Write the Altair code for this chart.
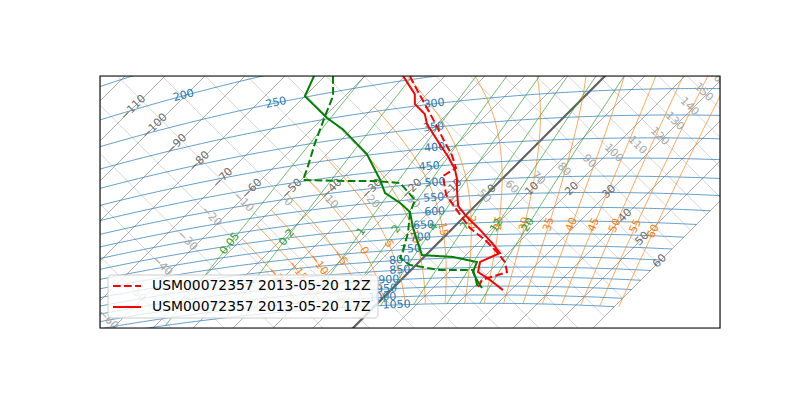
import numpy as np
import pandas as pd
import altair as alt

# ---------------- Sounding values (hPa, degC) ----------------
legend_labels = ["USM00072357 2013-05-20 12Z", "USM00072357 2013-05-20 17Z"]

p_t12 = [244, 280, 311, 345, 383, 423, 460, 481, 542, 605, 670, 722, 777, 825, 875, 916, 960]
t12 = [-48.75, -41.5, -35.75, -30, -24.25, -18.5, -14.25, -15.5, -10, -2.75, 4.25, 11, 17, 21.5, 24.5, 20.25, 21.25]
p_td12 = [223, 257, 293, 350, 415, 446, 464, 477, 491, 552, 598, 677, 751, 788, 826, 858, 862, 899, 960]
td12 = [-68, -63, -60, -55.75, -51.25, -49.5, -40, -31.25, -24.5, -16.5, -14.5, -10, -7, -5.75, -1.5, 7.25, 15.5, 17.75, 21.25]

p_t17 = [242, 277, 296, 319, 341, 365, 392, 425, 463, 493, 525, 583, 626, 679, 736, 782, 823, 873, 916, 972]
t17 = [-50.5, -43, -40.5, -35.5, -32.5, -28.5, -24.25, -19.25, -14.25, -11.25, -8.75, -4.25, 0.75, 7.25, 13.5, 18, 15.25, 17.25, 22.25, 28]
p_td17 = [217, 248, 298, 328, 397, 473, 519, 558, 594, 654, 780, 795, 823, 873, 916, 960]
td17 = [-72.75, -70, -59, -52.25, -40, -30.5, -25.75, -19.5, -14.75, -10.25, -1, 7.25, 14.5, 16, 19, 22.25]

# ---------------- Diagram line sets ----------------
isotherms = list(range(-120, 61, 10))
isotherm_labelled = list(range(-110, 61, 10))
dry_adiabats = list(range(-70, 251, 10))
isobars = [100, 150, 200, 250, 300, 350, 400, 450, 500, 550, 600, 650, 700, 750, 800, 850, 900, 950, 1000, 1050]
isobar_label_p = [200, 250, 300, 350, 400, 450, 500, 550, 600, 650, 700, 750, 800, 850, 900, 950, 1000, 1050]
isobar_label_t = [-100.4, -75.5, -35.75, -30, -24.6, -21.25, -15.8, -12.3, -8.6, -8, -5.75, -5.25, -5.25, -2.75, -3, -1.35, -0.25, 5.15]
wet_adiabats = list(range(-20, 61, 5))
mixing_ratios = [0.05, 0.2, 1, 2, 4, 7, 12, 20]

# ---------------- Tephigram transform ----------------
KELVIN = 273.15
KAPPA = 0.2857
MA = 300.0
RD, CP, LV, EPS = 287.04, 1005.7, 2.501e6, 0.622
X0, X1 = 1541.25, 1851.25
Y0, Y1 = 1667.75, 1793.75
W, H = 620, 252


def to_xy(T, theta_k):
    phi = np.log(theta_k)
    return MA * phi + T, MA * phi - T


def pT_xy(p, T):
    p = np.asarray(p, float)
    T = np.asarray(T, float)
    th = (T + KELVIN) * (1000.0 / p) ** KAPPA
    return to_xy(T, th)


def inside(x, y):
    return (x >= X0) & (x <= X1) & (y >= Y0) & (y <= Y1)


def fmt(v):
    s = f"{abs(v):g}"
    return ("\u2212" + s) if v < 0 else s


def angle(dx, dy):
    a = np.degrees(np.arctan2(-dy, dx))
    if a > 90:
        a -= 180
    if a < -90:
        a += 180
    return a % 360


def es(Tc):
    return 6.112 * np.exp(17.67 * Tc / (Tc + 243.5))


def dTdlnp(p, TK):
    e = es(TK - KELVIN)
    rs = EPS * e / (p - e)
    return (RD * TK + LV * rs) / (CP + LV * LV * rs * EPS / (RD * TK * TK))


def rk4(lp, T, h):
    f = lambda l, t: dTdlnp(np.exp(l), t)
    k1 = f(lp, T)
    k2 = f(lp + h / 2, T + h / 2 * k1)
    k3 = f(lp + h / 2, T + h / 2 * k2)
    k4 = f(lp + h, T + h * k3)
    return T + h / 6 * (k1 + 2 * k2 + 2 * k3 + k4)


def wet_adiabat(tw):
    lp0, T0 = np.log(1000.0), tw + KELVIN
    down = [(lp0, T0)]
    lp, T = lp0, T0
    n = 10
    h = (np.log(1050.0) - lp0) / n
    for _ in range(n):
        T = rk4(lp, T, h)
        lp += h
        down.append((lp, T))
    up = []
    lp, T = lp0, T0
    h = -0.01
    tmin = KELVIN - 50
    while lp > np.log(100):
        Tn = rk4(lp, T, h)
        if Tn < tmin:
            frac = (T - tmin) / (T - Tn)
            up.append((lp + h * frac, tmin))
            break
        lp, T = lp + h, Tn
        up.append((lp, T))
    seq = down[::-1] + up
    p = np.exp(np.array([s[0] for s in seq]))
    Tc = np.array([s[1] for s in seq]) - KELVIN
    return p, Tc


def mixing_line(w):
    p = np.geomspace(1050, 100, 160)
    e = (w / 1000.0) * p / (EPS + w / 1000.0)
    lr = np.log(e / 6.112)
    return p, 243.5 * lr / (17.67 - lr)


def line_rows(key, xs, ys):
    return [dict(key=key, i=i, x=float(a), y=float(b)) for i, (a, b) in enumerate(zip(xs, ys))]


def curve_label(p, T, text):
    x, y = pT_xy(p, T)
    m = inside(x, y)
    if not m.any():
        return None
    pm = 0.5 * (p[m].min() + p[m].max())
    Tm = np.interp(pm, p[::-1], T[::-1])
    lx, ly = pT_xy(pm, Tm)
    pa, pb = pm * 1.03, pm / 1.03
    ax, ay = pT_xy(pa, np.interp(pa, p[::-1], T[::-1]))
    bx, by = pT_xy(pb, np.interp(pb, p[::-1], T[::-1]))
    return dict(x=float(lx), y=float(ly), label=text, ang=angle(bx - ax, by - ay))


# Isotherms and dry adiabats (straight lines)
iso_rows, iso0_rows, iso_lab = [], [], []
th_span = np.array([150.0, 700.0])
th_fine = np.linspace(150, 700, 6000)
for T in isotherms:
    x, y = to_xy(T, th_span)
    (iso0_rows if T == 0 else iso_rows).extend(line_rows(f"t{T}", x, y))
    if T in isotherm_labelled:
        fx, fy = to_xy(T, th_fine)
        m = inside(fx, fy)
        if m.any():
            thm = 0.5 * (th_fine[m].min() + th_fine[m].max())
            lx, ly = to_xy(T, thm)
            iso_lab.append(dict(x=lx, y=ly, label=fmt(T), ang=315))

ad_rows, ad_lab = [], []
T_span = np.array([-160.0, 60.0])
T_fine = np.linspace(-160, 60, 6000)
for th in dry_adiabats:
    x, y = to_xy(T_span, th + KELVIN)
    ad_rows.extend(line_rows(f"a{th}", x, y))
    fx, fy = to_xy(T_fine, th + KELVIN)
    m = inside(fx, fy)
    if m.any():
        Tm = 0.5 * (T_fine[m].min() + T_fine[m].max())
        lx, ly = to_xy(Tm, th + KELVIN)
        ad_lab.append(dict(x=lx, y=ly, label=fmt(th), ang=45))

# Isobars
pb_rows, pb_lab = [], []
T_iso = np.arange(-135, 60.01, 1.0)
for p in isobars:
    x, y = pT_xy(np.full_like(T_iso, p), T_iso)
    pb_rows.extend(line_rows(f"p{p}", x, y))
for p, T in zip(isobar_label_p, isobar_label_t):
    lx, ly = pT_xy(p, T)
    ax, ay = pT_xy(p, T - 1)
    bx, by = pT_xy(p, T + 1)
    pb_lab.append(dict(x=float(lx), y=float(ly), label=str(p), ang=angle(bx - ax, by - ay)))

# Wet adiabats
wa_rows, wa_lab = [], []
for tw in wet_adiabats:
    p, T = wet_adiabat(tw)
    x, y = pT_xy(p, T)
    wa_rows.extend(line_rows(f"w{tw}", x, y))
    lab = curve_label(p, T, fmt(tw))
    if lab:
        wa_lab.append(lab)

# Mixing ratio lines
mr_rows, mr_lab = [], []
for w in mixing_ratios:
    p, T = mixing_line(w)
    x, y = pT_xy(p, T)
    mr_rows.extend(line_rows(f"m{w}", x, y))
    lab = curve_label(p, T, f"{w:g}")
    if lab:
        mr_lab.append(lab)

# Profiles
prof_rows = []
for run, kind, ps, ts in [(legend_labels[0], "T", p_t12, t12), (legend_labels[0], "Td", p_td12, td12),
                          (legend_labels[1], "T", p_t17, t17), (legend_labels[1], "Td", p_td17, td17)]:
    x, y = pT_xy(ps, ts)
    for i, (a, b) in enumerate(zip(x, y)):
        prof_rows.append(dict(run=run, kind=kind, key=run + kind, i=i, x=float(a), y=float(b)))
prof = pd.DataFrame(prof_rows)

# ---------------- Altair ----------------
XE = alt.X("x:Q", scale=alt.Scale(domain=[X0, X1], nice=False, zero=False), axis=None)
YE = alt.Y("y:Q", scale=alt.Scale(domain=[Y0, Y1], nice=False, zero=False), axis=None)
FONT = "DejaVu Sans"
DASH = [7.7, 3.3]


def lines(rows, color, width, opacity=1.0):
    return alt.Chart(pd.DataFrame(rows)).mark_line(clip=True, color=color, strokeWidth=width, opacity=opacity).encode(
        XE, YE, detail="key:N", order="i:Q")


def labels(rows, color, size=11):
    return alt.Chart(pd.DataFrame(rows)).mark_text(clip=True, color=color, font=FONT, fontSize=size,
                                                   baseline="middle", align="center").encode(
        XE, YE, text="label:N", angle=alt.Angle("ang:Q", scale=None))


def profile(kind, color):
    return alt.Chart(prof).transform_filter(f"datum.kind == '{kind}'").mark_line(
        clip=True, color=color, strokeWidth=2).encode(
        XE, YE, detail="key:N", order="i:Q",
        strokeDash=alt.StrokeDash("run:N", scale=alt.Scale(domain=legend_labels, range=[DASH, [1, 0]]),
                                  legend=None))


one = pd.DataFrame({"k": [0]})
leg_df = pd.DataFrame({"label": legend_labels})

legend_box = alt.Chart(one).mark_rect(fill="white", fillOpacity=0.8, stroke="#cccccc", strokeWidth=1,
                                      cornerRadius=3).encode(
    x=alt.value(8), x2=alt.value(278), y=alt.value(199), y2=alt.value(242))
legend_sym1 = alt.Chart(one).mark_rule(color="red", strokeWidth=2, strokeDash=DASH).encode(
    x=alt.value(13), x2=alt.value(41), y=alt.value(210))
legend_sym2 = alt.Chart(one).mark_rule(color="red", strokeWidth=2).encode(
    x=alt.value(13), x2=alt.value(41), y=alt.value(231))
legend_t1 = alt.Chart(leg_df.iloc[[0]]).mark_text(font=FONT, fontSize=13.9, align="left", baseline="middle",
                                                  color="black").encode(
    x=alt.value(52), y=alt.value(210), text="label:N")
legend_t2 = alt.Chart(leg_df.iloc[[1]]).mark_text(font=FONT, fontSize=13.9, align="left", baseline="middle",
                                                  color="black").encode(
    x=alt.value(52), y=alt.value(231), text="label:N")
frame_rect = alt.Chart(one).mark_rect(fillOpacity=0, stroke="black", strokeWidth=1.1).encode(
    x=alt.value(0), x2=alt.value(W), y=alt.value(0), y2=alt.value(H))

chart = alt.layer(
    lines(ad_rows, "#c4c4c4", 0.7),
    lines(iso_rows, "#888888", 0.7),
    lines(iso0_rows, "#606060", 2.2),
    lines(pb_rows, "#1f77b4", 0.7),
    lines(wa_rows, "#ff7f0e", 0.7),
    lines(mr_rows, "#2ca02c", 0.7),
    labels(ad_lab, "#a8a8a8"),
    labels(iso_lab, "#6e6e6e"),
    labels(wa_lab, "#ff7f0e"),
    labels(mr_lab, "#2ca02c"),
    labels(pb_lab, "#1f77b4"),
    profile("T", "#ff0000"),
    profile("Td", "#008000"),
    legend_box, legend_sym1, legend_sym2, legend_t1, legend_t2,
    frame_rect,
).properties(
    width=W, height=H,
    padding={"left": 92, "top": 68, "right": 72, "bottom": 64},
    autosize=alt.AutoSizeParams(type="none"),
).configure_view(stroke=None).configure(background="white")

chart.save("out.html", embed_options={"renderer": "svg", "actions": False})
